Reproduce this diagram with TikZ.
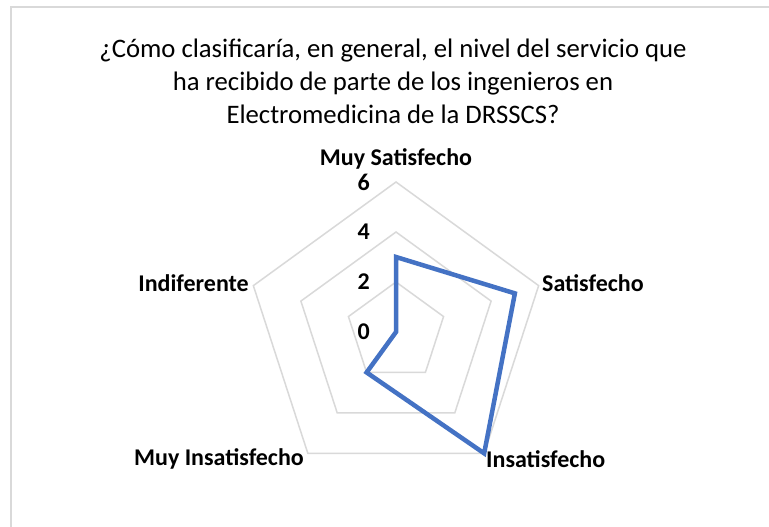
\documentclass[tikz,border=0pt]{standalone}
\usepackage{fontspec}
\setmainfont{Carlito}
\definecolor{gridgray}{RGB}{217,217,217}
\definecolor{serieblue}{RGB}{68,114,196}
\tikzset{
  rejilla/.style={draw=gridgray, line width=1.5pt, line join=miter},
  serie/.style={draw=serieblue, line width=4.5pt, line join=miter},
  eje/.style={font=\fontsize{24}{28}\selectfont\bfseries, inner sep=0pt},
  valor/.style={font=\fontsize{24}{28}\selectfont\bfseries, inner sep=0pt, anchor=east}
}
\begin{document}
\begin{tikzpicture}[x=1pt, y=1pt]
                    \useasboundingbox (0,0) rectangle (769,527);
                    \fill[white] (0,0) rectangle (769,527);
                    \draw[gridgray, line width=2pt] (11,0) -- (11,520) -- (769,520);
                    \node (titulo) at (393,446) [align=center, font=\fontsize{26.7}{33}\selectfont] {¿Cómo clasificaría, en general, el nivel del servicio que\\ha recibido de parte de los ingenieros en\\Electromedicina de la DRSSCS?};
                    \begin{scope}[shift={(396,195)}]
                    \foreach \v in {2,4,6}
                        \draw[rejilla] (90:25*\v) -- (18:25*\v) -- (-54:25*\v) -- (-126:25*\v) -- (162:25*\v) -- cycle;
                    \draw[serie] (90:75) -- (18:125) -- (-54:150) -- (-126:50) -- (162:0) -- cycle;
                    \node[valor] (v0) at (-26,0) {0};
                    \node[valor] (v2) at (-26,50) {2};
                    \node[valor] (v4) at (-26,100) {4};
                    \node[valor] (v6) at (-26,150) {6};
                    \end{scope}
                    \node[eje] (muysat) at (396,368) {Muy Satisfecho};
                    \node[eje, anchor=west] (sat) at (542,244) {Satisfecho};
                    \node[eje, anchor=west] (insat) at (486,68) {Insatisfecho};
                    \node[eje, anchor=east] (muyinsat) at (304,68) {Muy Insatisfecho};
                    \node[eje, anchor=east] (indif) at (249,244) {Indiferente};
                \end{tikzpicture}
\end{document}
